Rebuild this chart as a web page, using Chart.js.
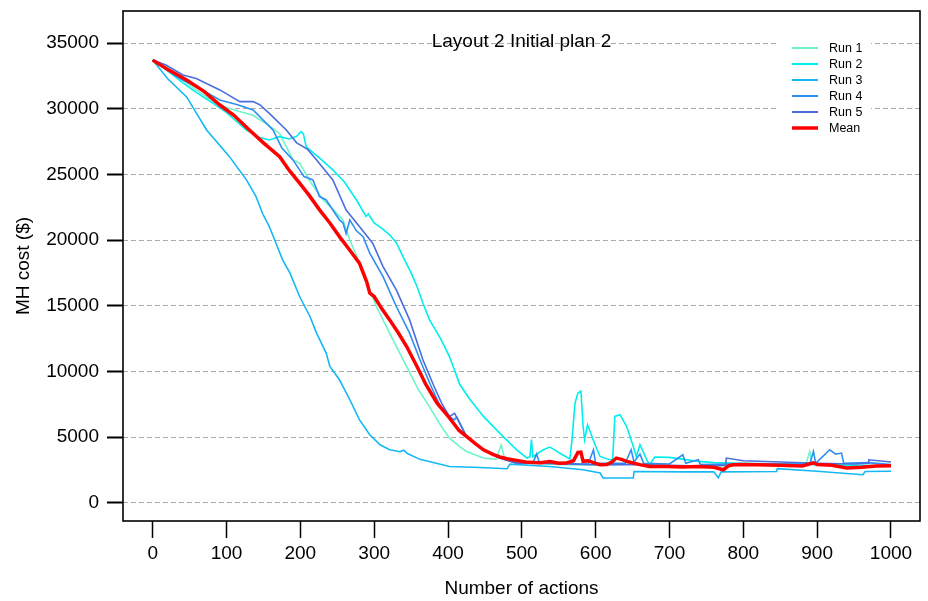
<!DOCTYPE html>
<html>
<head>
<meta charset="utf-8">
<script src="https://cdn.jsdelivr.net/npm/chart.js@4.4.1/dist/chart.umd.min.js"></script>
<style>
  body { margin: 0; background: #fff; }
  canvas { display: block; }
</style>
</head>
<body>
<canvas id="graph1" width="928" height="601"></canvas>
<script>
var chartTitle = 'Layout 2 Initial plan 2';
var xTitle = 'Number of actions';
var yTitle = 'MH cost ($)';
var xTicks = [0, 100, 200, 300, 400, 500, 600, 700, 800, 900, 1000];
var yTicks = [0, 5000, 10000, 15000, 20000, 25000, 30000, 35000];

var runNames = ['Run 1', 'Run 2', 'Run 3', 'Run 4', 'Run 5'];
var runColors = ['#6ef5cc', '#00eeee', '#14b8f5', '#2c8ef0', '#4a6ee0'];
var meanColor = '#ff0000';

// run 1 (aquamarine)
var run1X = [0, 20, 40, 60, 86, 110, 136, 158, 172, 190, 199, 215, 231, 245, 258, 267, 284, 303, 321, 344, 360, 375, 390, 402, 415, 425, 448, 465, 472, 476, 490, 510, 530, 560, 600, 650, 700, 750, 800, 850, 885, 890, 893, 920, 960, 1000];
var run1Y = [33700, 33000, 32200, 31400, 30400, 29900, 29500, 28700, 28100, 26100, 25850, 24300, 23050, 22300, 21500, 20000, 17730, 14940, 12900, 10370, 8600, 7300, 5900, 4920, 4300, 3900, 3400, 3300, 4400, 3500, 3150, 3050, 2950, 2900, 2850, 2950, 2800, 2750, 2900, 2950, 3000, 3900, 3000, 2900, 2850, 2800];

// run 2 (cyan)
var run2X = [0, 20, 40, 60, 81, 100, 127, 145, 158, 172, 185, 195, 201, 204, 208, 225, 244, 260, 276, 289, 292, 300, 310, 321, 330, 339, 350, 358, 366, 375, 390, 402, 416, 430, 448, 470, 493, 507, 511, 513, 515, 529, 538, 545, 551, 565, 568, 572, 576, 580, 583, 585, 589, 600, 606, 619, 623, 626, 633, 642, 651, 655, 660, 669, 673, 680, 700, 739, 760, 800, 850, 900, 950, 1000];
var run2Y = [33700, 32900, 32000, 31200, 30440, 29700, 28380, 27800, 27620, 27870, 27700, 27900, 28250, 28100, 27100, 26300, 25340, 24400, 23050, 21800, 22000, 21300, 20900, 20400, 19800, 18740, 17500, 16460, 15200, 13920, 12500, 11130, 9000, 7840, 6570, 5300, 4030, 3400, 3500, 4800, 3500, 4030, 4240, 4000, 3780, 3330, 4800, 7590, 8350, 8500, 5800, 4790, 5930, 4300, 3520, 3270, 3300, 6570, 6700, 5800, 4280, 3500, 4410, 3300, 2900, 3480, 3450, 3150, 3050, 3000, 2950, 2900, 2850, 2800];

// run 3 (deep sky blue)
var run3X = [0, 20, 46, 73, 104, 127, 140, 149, 158, 167, 176, 186, 199, 213, 222, 235, 240, 253, 267, 280, 294, 308, 321, 335, 340, 345, 362, 402, 443, 480, 484, 538, 583, 606, 610, 651, 652, 719, 760, 766, 770, 845, 846, 900, 962, 965, 1000];
var run3Y = [33700, 32300, 30900, 28380, 26350, 24580, 23300, 22000, 21030, 19760, 18490, 17480, 15700, 14180, 12910, 11390, 10370, 9360, 7840, 6320, 5170, 4410, 4030, 3880, 4000, 3750, 3300, 2760, 2680, 2590, 2940, 2760, 2510, 2260, 1880, 1880, 2380, 2350, 2350, 1900, 2350, 2380, 2590, 2400, 2130, 2380, 2400];

// run 4 (dodger blue)
var run4X = [0, 20, 40, 59, 91, 115, 136, 163, 175, 190, 205, 217, 226, 235, 253, 258, 262, 267, 276, 285, 294, 312, 330, 348, 362, 376, 389, 402, 408, 412, 425, 448, 470, 493, 515, 520, 524, 560, 578, 590, 597, 600, 620, 640, 648, 652, 660, 665, 700, 718, 722, 739, 742, 780, 850, 890, 895, 898, 917, 925, 933, 936, 969, 1000];
var run4Y = [33700, 32900, 32200, 31680, 30670, 30300, 29900, 28380, 27000, 26100, 24830, 24580, 23310, 23050, 21530, 21280, 20500, 21530, 20700, 20260, 19000, 17220, 14940, 12910, 10880, 9000, 7400, 6570, 6300, 6500, 5050, 4030, 3400, 3000, 3050, 3700, 3000, 3000, 2950, 2950, 4030, 3000, 3000, 3000, 4030, 3100, 3700, 3000, 2950, 3650, 3000, 3270, 2900, 2950, 2950, 2950, 3910, 3000, 4030, 3700, 3780, 3000, 3050, 2900];

// run 5 (royal blue)
var run5X = [0, 18, 41, 59, 77, 91, 118, 136, 145, 158, 181, 195, 210, 222, 244, 262, 280, 298, 312, 330, 348, 366, 380, 392, 402, 409, 425, 448, 470, 493, 520, 560, 600, 650, 700, 740, 776, 777, 800, 850, 900, 950, 969, 970, 1000];
var run5Y = [33700, 33330, 32570, 32300, 31810, 31430, 30540, 30540, 30300, 29650, 28380, 27400, 26900, 26100, 24580, 22290, 21030, 19760, 17980, 16210, 13920, 10880, 9000, 7500, 6570, 6800, 5050, 4030, 3400, 3000, 3000, 2950, 2900, 2900, 2850, 2800, 2850, 3400, 3200, 3100, 3000, 2950, 3000, 3270, 3100];

// mean (red)
var meanX = [0, 20, 46, 70, 91, 110, 131, 150, 172, 185, 199, 212, 226, 240, 253, 266, 280, 290, 294, 300, 310, 321, 333, 344, 358, 370, 385, 402, 415, 425, 437, 448, 460, 470, 480, 493, 505, 515, 525, 538, 550, 560, 570, 576, 580, 583, 590, 600, 606, 615, 622, 628, 635, 642, 651, 660, 673, 696, 718, 739, 760, 773, 780, 786, 800, 850, 880, 895, 900, 920, 940, 960, 980, 1000];
var meanY = [33700, 33000, 32190, 31300, 30280, 29500, 28380, 27400, 26350, 25300, 24330, 23400, 22300, 21300, 20260, 19300, 18240, 16800, 15960, 15700, 14800, 13920, 12900, 11890, 10370, 9000, 7600, 6450, 5500, 5050, 4500, 4030, 3700, 3480, 3350, 3220, 3100, 3070, 3050, 3140, 3000, 3020, 3200, 3830, 3850, 3150, 3200, 3000, 2890, 2900, 3100, 3400, 3300, 3150, 3020, 2900, 2760, 2760, 2720, 2760, 2700, 2510, 2800, 2890, 2900, 2850, 2800, 3040, 2900, 2850, 2640, 2700, 2800, 2820];

var fontFamily = '"Liberation Sans", Arial, sans-serif';

function toPoints(xs, ys) {
  var pts = [];
  for (var i = 0; i < xs.length; i++) {
    pts.push({ x: xs[i], y: ys[i] });
  }
  return pts;
}

var runX = [run1X, run2X, run3X, run4X, run5X];
var runY = [run1Y, run2Y, run3Y, run4Y, run5Y];

var datasets = [];
for (var r = 0; r < runNames.length; r++) {
  datasets.push({
    label: runNames[r],
    data: toPoints(runX[r], runY[r]),
    borderColor: runColors[r],
    borderWidth: 1.6,
    pointRadius: 0,
    tension: 0,
    order: 6 - r
  });
}
datasets.push({
  label: 'Mean',
  data: toPoints(meanX, meanY),
  borderColor: meanColor,
  borderWidth: 3.5,
  pointRadius: 0,
  tension: 0,
  order: 0
});

// box, title, axis titles and legend drawn by hand, R style
const decorations = {
  id: 'decorations',
  afterDraw: function (chart) {
    var ctx = chart.ctx;
    var a = chart.chartArea;
    ctx.save();

    // legend
    ctx.fillStyle = '#fff';
    ctx.fillRect(779, 36, 92, 101);
    var names = runNames.concat(['Mean']);
    var colors = runColors.concat([meanColor]);
    ctx.font = '12.5px ' + fontFamily;
    ctx.textBaseline = 'middle';
    ctx.textAlign = 'left';
    for (var i = 0; i < names.length; i++) {
      var ly = 48 + i * 16;
      ctx.strokeStyle = colors[i];
      ctx.lineWidth = i === 5 ? 3.5 : 2;
      ctx.beginPath();
      ctx.moveTo(792, ly);
      ctx.lineTo(818, ly);
      ctx.stroke();
      ctx.fillStyle = '#000';
      ctx.fillText(names[i], 829, ly + 0.5);
    }

    // title inside the plot
    ctx.font = '19px ' + fontFamily;
    ctx.textAlign = 'center';
    ctx.fillStyle = '#000';
    ctx.fillText(chartTitle, (a.left + a.right) / 2, 42);

    // axis titles
    ctx.fillText(xTitle, (a.left + a.right) / 2, 589);
    ctx.save();
    ctx.translate(24, (a.top + a.bottom) / 2);
    ctx.rotate(-Math.PI / 2);
    ctx.fillText(yTitle, 0, 0);
    ctx.restore();

    // plot box
    ctx.strokeStyle = '#000';
    ctx.lineWidth = 1.6;
    ctx.strokeRect(a.left, a.top, a.right - a.left, a.bottom - a.top);
    ctx.restore();
  }
};

function plainLabel(value) {
  return String(value);
}

const config = {
  type: 'line',
  data: { datasets: datasets },
  options: {
    responsive: false,
    devicePixelRatio: 1,
    animation: false,
    layout: { padding: { left: 0, top: 11, right: 8, bottom: 0 } },
    plugins: {
      legend: { display: false },
      tooltip: { enabled: false }
    },
    scales: {
      x: {
        type: 'linear',
        min: -40.2,
        max: 1039.3,
        afterBuildTicks: function (scale) {
          scale.ticks = xTicks.map(function (v) { return { value: v }; });
        },
        afterFit: function (scale) {
          scale.height = 80;
          scale.paddingLeft = 0;
          scale.paddingRight = 0;
        },
        grid: {
          drawOnChartArea: false,
          drawTicks: true,
          tickLength: 17,
          tickColor: '#000',
          tickWidth: 1.5
        },
        border: { display: false },
        ticks: {
          color: '#000',
          font: { family: fontFamily, size: 19 },
          padding: 4,
          maxRotation: 0,
          autoSkip: false,
          callback: plainLabel
        }
      },
      y: {
        type: 'linear',
        min: -1393,
        max: 37440,
        afterBuildTicks: function (scale) {
          scale.ticks = yTicks.map(function (v) { return { value: v }; });
        },
        afterFit: function (scale) {
          scale.width = 123;
          scale.paddingTop = 0;
          scale.paddingBottom = 0;
        },
        grid: {
          drawOnChartArea: true,
          color: '#aaaaaa',
          lineWidth: 1,
          drawTicks: true,
          tickLength: 16,
          tickColor: '#000',
          tickWidth: 2
        },
        border: { display: false, dash: [5, 3] },
        ticks: {
          color: '#000',
          font: { family: fontFamily, size: 19 },
          padding: 8,
          autoSkip: false,
          callback: plainLabel
        }
      }
    }
  },
  plugins: [decorations]
};

var myChart = new Chart(document.getElementById('graph1'), config);
</script>
</body>
</html>
